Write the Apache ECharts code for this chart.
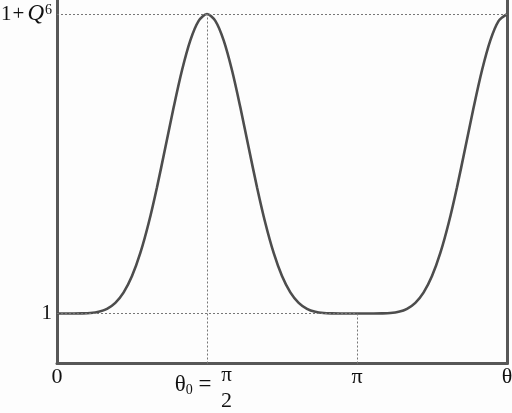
<!DOCTYPE html>
<html>
<head>
<meta charset="utf-8">
<script src="https://cdn.jsdelivr.net/npm/echarts@6/dist/echarts.min.js"></script>
<style>
html,body{margin:0;padding:0;background:#fdfdfd;}
#chart{width:512px;height:413px;}
</style>
</head>
<body>
<div id="chart"></div>
<script>
// theta in degrees (0 .. 3π/2)
const thetaDeg = [0,5,10,15,20,25,30,35,40,45,50,55,60,65,70,75,80,85,90,
  95,100,105,110,115,120,125,130,135,140,145,150,155,160,165,170,175,180,
  185,190,195,200,205,210,215,220,225,230,235,240,245,250,255,260,265,270];
// normalized height: 0 -> "1", 1 -> "1+Q^6"
const curveValues = [0,0,0,0.0003,0.0016,0.0057,0.0156,0.0356,0.0705,0.125,0.2021,0.3021,0.4219,0.5542,0.6885,0.8122,0.9122,0.9774,1,
  0.9774,0.9122,0.8122,0.6885,0.5542,0.4219,0.3021,0.2021,0.125,0.0705,0.0356,0.0156,0.0057,0.0016,0.0003,0,0,0,
  0,0,0.0003,0.0016,0.0057,0.0156,0.0356,0.0705,0.125,0.2021,0.3021,0.4219,0.5542,0.6885,0.8122,0.9122,0.9774,1];

const xTickValues = [0, 90, 180, 270];
const xTickLabels = ['0', 'θ0 = π/2', 'π', 'θ'];
const yTickValues = [0, 1];
const yTickLabels = ['1', '1+Q^6'];

const yMin = -0.167, yMax = 1.047;
// dotted guide lines: [x1, y1, x2, y2] in data units
const guideLines = [[0, 1, 270, 1], [0, 0, 180, 0], [90, yMin, 90, 1], [180, yMin, 180, 0]];

const axisColor = '#575757';
const serif = '"Liberation Serif", "DejaVu Serif", serif';

const chart = echarts.init(document.getElementById('chart'), null, {renderer: 'canvas'});

function xLabel(v) {
  const i = xTickValues.indexOf(v);
  if (i < 0) return '';
  if (i === 1) {
    return '{sp|}{n|π}\n{t|θ}{sub|0}{eq| = }{sp2|}\n{sp|}{d|2}';
  }
  return '{s|' + xTickLabels[i] + '}';
}
function yLabel(v) {
  const i = yTickValues.indexOf(v);
  if (i < 0) return '';
  if (i === 1) return '{n|1}{p|+}{q|Q}{sup|6}';
  return '{n|' + yTickLabels[i] + '}';
}

chart.setOption({
  animation: false,
  backgroundColor: '#fdfdfd',
  grid: {left: 57, right: 5, top: 0, bottom: 49.5, containLabel: false, outerBoundsMode: 'none'},
  xAxis: {
    type: 'value', min: 0, max: 270,
    axisLine: {show: true, onZero: false, lineStyle: {color: axisColor, width: 3}},
    axisTick: {show: false},
    splitLine: {show: false},
    axisLabel: {
      customValues: xTickValues,
      margin: 6,
      formatter: xLabel,
      color: '#111',
      fontFamily: serif,
      rich: {
        s: {fontSize: 22, lineHeight: 16, fontFamily: serif, color: '#111'},
        sp: {width: 39, lineHeight: 12},
        sp2: {width: 22, lineHeight: 6},
        n: {fontSize: 21, lineHeight: 12, fontFamily: serif, color: '#111'},
        t: {fontSize: 23, lineHeight: 6, fontFamily: serif, color: '#111'},
        sub: {fontSize: 14, lineHeight: 6, fontFamily: serif, color: '#111', padding: [12, 0, 0, 0]},
        eq: {fontSize: 23, lineHeight: 6, fontFamily: serif, color: '#111'},
        d: {fontSize: 22, lineHeight: 27, fontFamily: serif, color: '#111'}
      }
    }
  },
  yAxis: [{
    type: 'value', min: yMin, max: yMax, position: 'left',
    axisLine: {show: true, onZero: false, lineStyle: {color: axisColor, width: 3}},
    axisTick: {show: false},
    splitLine: {show: false},
    axisLabel: {
      customValues: yTickValues,
      margin: 5,
      formatter: yLabel,
      color: '#111',
      rich: {
        n: {fontSize: 21, fontFamily: serif, color: '#111', lineHeight: 22},
        p: {fontSize: 21, fontFamily: serif, color: '#111', lineHeight: 22, padding: [0, 3, 0, 1]},
        q: {fontSize: 23, fontFamily: serif, fontStyle: 'italic', color: '#111', lineHeight: 22},
        sup: {fontSize: 14, fontFamily: serif, color: '#111', verticalAlign: 'top', lineHeight: 22, padding: [0, 0, 0, 1]}
      }
    }
  }, {
    type: 'value', min: yMin, max: yMax, position: 'right',
    axisLine: {show: true, onZero: false, lineStyle: {color: axisColor, width: 3}},
    axisTick: {show: false}, axisLabel: {show: false}, splitLine: {show: false}
  }],
  series: [{
    type: 'line',
    data: thetaDeg.map((t, i) => [t, curveValues[i]]),
    showSymbol: false,
    smooth: 0.3,
    lineStyle: {color: '#4d4d4d', width: 2.6},
    markLine: {
      silent: true,
      symbol: 'none',
      label: {show: false},
      lineStyle: {color: '#777', width: 1, type: [2, 2]},
      data: guideLines.map(g => [{coord: [g[0], g[1]]}, {coord: [g[2], g[3]]}])
    },
    z: 3
  }]
});
</script>
</body>
</html>
